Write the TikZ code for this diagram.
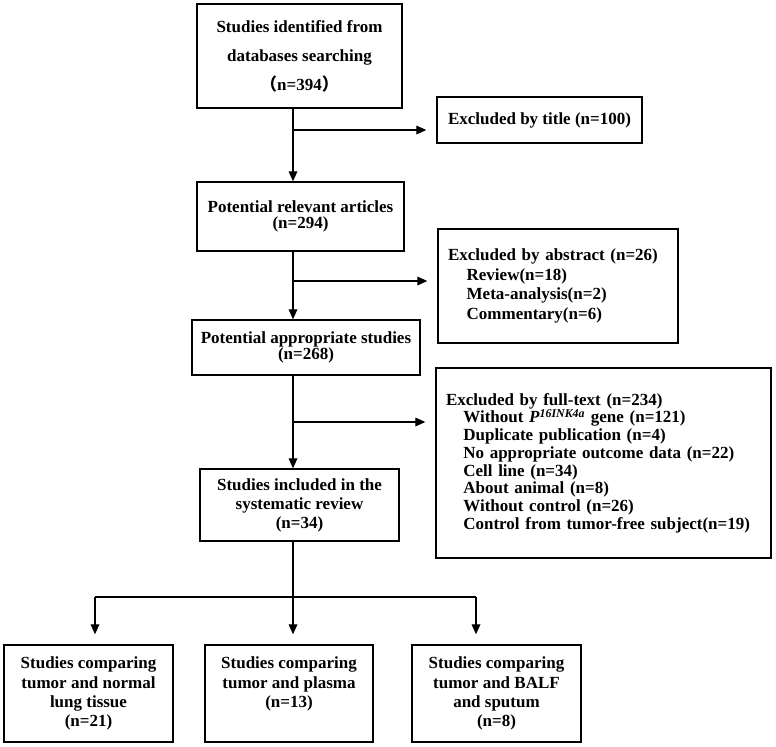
\documentclass[tikz,border=0pt]{standalone}
\usepackage{fontspec}
\setmainfont{Liberation Serif}
\newfontfamily\cjk{Noto Sans CJK SC}
\usetikzlibrary{arrows.meta}

\begin{document}
\begin{tikzpicture}[x=0.75pt,y=-0.75pt,->,>={Triangle[length=7.5pt,width=6.5pt]},line width=0.9pt]
  \def\f{0.75pt}

\tikzstyle{box}=[draw,line width=1pt,inner sep=0pt,align=center,font=\fontsize{12.75}{14.3}\selectfont\bfseries]
\tikzstyle{exbox}=[box,align=left,inner xsep=10*\f]
\useasboundingbox (0,0) rectangle (776,747);

\node[box][minimum width=205*\f,minimum height=104*\f,font=\fontsize{12.75}{21.75}\selectfont\bfseries] (B1) at (299.5,56) {Studies identified from\\databases searching\\{\cjk （}n=394{\cjk ）}};
\node[box][minimum width=205*\f,minimum height=46*\f] (E1) at (539.5,120) {Excluded by title (n=100)};
\node[box][minimum width=207*\f,minimum height=69*\f,font=\fontsize{12.75}{12.5}\selectfont\bfseries] (B2) at (300.5,216.5) {Potential relevant articles\\(n=294)};
\node[exbox][text width=220*\f,minimum height=114*\f,font=\fontsize{12.75}{14.6}\selectfont\bfseries] (E2) at (558,286) {Excluded by abstract (n=26)\\
\hspace*{14pt}Review(n=18)\\
\hspace*{14pt}Meta-analysis(n=2)\\
\hspace*{14pt}Commentary(n=6)};
\node[box][minimum width=228*\f,minimum height=55*\f,font=\fontsize{12.75}{12}\selectfont\bfseries] (B3) at (306,347.5) {Potential appropriate studies\\(n=268)};
\node[exbox][text width=315*\f,minimum height=190*\f,font=\fontsize{12.75}{13.3}\selectfont\bfseries] (E3) at (603.5,463) {Excluded by full-text (n=234)\\
\hspace*{13pt}Without \textit{P}\textsuperscript{\textit{16INK4a}} gene (n=121)\\
\hspace*{13pt}Duplicate publication (n=4)\\
\hspace*{13pt}No appropriate outcome data (n=22)\\
\hspace*{13pt}Cell line (n=34)\\
\hspace*{13pt}About animal (n=8)\\
\hspace*{13pt}Without control (n=26)\\
\hspace*{13pt}Control from tumor-free subject(n=19)};
\node[box][minimum width=199*\f,minimum height=72*\f] (B4) at (299.5,505) {Studies included in the\\systematic review\\(n=34)};
\node[box][minimum width=169*\f,minimum height=97*\f] (C1) at (88.5,693.5) {Studies comparing\\tumor and normal\\lung tissue\\(n=21)};
\node[box][minimum width=168*\f,minimum height=97*\f] (C2) at (289,693.5) {Studies comparing\\tumor and plasma\\(n=13)\\\phantom{(n=13)}};
\node[box][minimum width=169*\f,minimum height=97*\f] (C3) at (496.5,693.5) {Studies comparing\\tumor and BALF\\and sputum\\(n=8)};

\coordinate (S) at (293,0);
\coordinate (J1) at (293,130);
\coordinate (J2) at (293,281);
\coordinate (J3) at (293,422);
\coordinate (T) at (293,597);
\coordinate (K1) at (95,597);
\coordinate (K3) at (476,597);

\draw (B1.south -| S) -- (B2.north -| S);
\draw[shorten >=10*\f] (J1) -- (J1 -| E1.west);
\draw (B2.south -| S) -- (B3.north -| S);
\draw[shorten >=10*\f] (J2) -- (J2 -| E2.west);
\draw (B3.south -| S) -- (B4.north -| S);
\draw[shorten >=10*\f] (J3) -- (J3 -| E3.west);
\draw[-] (B4.south -| S) -- (T);
\draw[-] (K1) -- (K3);
\draw[shorten >=10*\f] (K1) -- (K1 |- C1.north);
\draw[shorten >=10*\f] (T) -- (T |- C2.north);
\draw[shorten >=10*\f] (K3) -- (K3 |- C3.north);
\end{tikzpicture}
\end{document}
